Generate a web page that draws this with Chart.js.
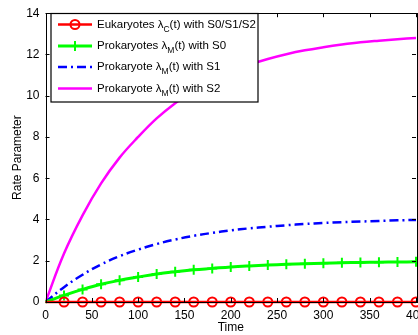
<!DOCTYPE html>
<html><head><meta charset="utf-8">
<script src="https://cdn.jsdelivr.net/npm/chart.js@4.4.0/dist/chart.umd.min.js"></script>
<style>
html,body{margin:0;padding:0;overflow:hidden;background:#fff;width:418px;height:335px}
#wrap{position:absolute;left:0;top:0;width:440px;height:335px}
</style></head><body>
<div id="wrap"><canvas id="c" width="440" height="335"></canvas></div>
<script>
const time = [0,20,40,60,80,100,120,140,160,180,200,220,240,260,280,300,320,340,360,380,400];
const eukaryotes = [0,0,0,0,0,0,0,0,0,0,0,0,0,0,0,0,0,0,0,0,0];
const prokS0 = [0,0.32,0.61,0.86,1.05,1.21,1.36,1.47,1.56,1.63,1.70,1.75,1.79,1.83,1.86,1.88,1.90,1.92,1.93,1.94,1.95];
const prokS1 = [0,0.72,1.32,1.82,2.22,2.54,2.81,3.03,3.21,3.35,3.47,3.57,3.65,3.72,3.78,3.83,3.87,3.90,3.93,3.96,3.98];
const prokS2 = [0,2.35,4.2,5.75,7.0,8.0,8.9,9.64,10.25,10.75,11.16,11.5,11.78,12.01,12.2,12.35,12.48,12.59,12.67,12.74,12.8];
const xTicks = [0,50,100,150,200,250,300,350,400];
const yTicks = [0,2,4,6,8,10,12,14];
const legendItems = [
  {pre:'Eukaryotes \u03BB', sub:'C', post:'(t) with S0/S1/S2'},
  {pre:'Prokaryotes \u03BB', sub:'M', post:'(t) with S0'},
  {pre:'Prokaryote \u03BB', sub:'M', post:'(t) with S1'},
  {pre:'Prokaryote \u03BB', sub:'M', post:'(t) with S2'}
];
const FONT = '"Liberation Sans", Arial, Helvetica, sans-serif';

function series(vals){ return time.map((t,i)=>({x:t,y:vals[i]})); }

const datasets = [
  {data:series(eukaryotes), borderColor:'#ff0000', borderWidth:2.5, pointStyle:'circle', clip:false,
   pointRadius: ctx => ctx.dataIndex===0?0:4.5, pointBorderWidth:2, pointBackgroundColor:'rgba(0,0,0,0)', pointBorderColor:'#ff0000'},
  {data:series(prokS0), borderColor:'#00ff00', borderWidth:3, pointStyle:'cross', clip:false,
   pointRadius: ctx => ctx.dataIndex===0?0:5, pointBorderWidth:2, pointBorderColor:'#00ff00', tension:0.4},
  {data:series(prokS1), borderColor:'#0000ff', borderWidth:2.5, borderDash:[9,4,2,4], pointRadius:0, tension:0.4},
  {data:series(prokS2), borderColor:'#ff00ff', borderWidth:2.5, pointRadius:0, tension:0.4}
];

const boxPlugin = {
  id:'box',
  afterDatasetsDraw(chart){
    const {ctx, chartArea:a, scales:{x,y}} = chart;
    ctx.save();
    ctx.strokeStyle='#000'; ctx.lineWidth=1;
    ctx.beginPath();
    const L=4;
    xTicks.forEach(v=>{const px=Math.round(x.getPixelForValue(v))+0.5;
      ctx.moveTo(px,a.bottom); ctx.lineTo(px,a.bottom-L);
      ctx.moveTo(px,a.top); ctx.lineTo(px,a.top+L);});
    yTicks.forEach(v=>{const py=Math.round(y.getPixelForValue(v))+0.5;
      ctx.moveTo(a.left,py); ctx.lineTo(a.left+L,py);
      ctx.moveTo(a.right,py); ctx.lineTo(a.right-L,py);});
    ctx.stroke();
    ctx.strokeRect(Math.round(a.left)+0.5, Math.round(a.top)+0.5, Math.round(a.right-a.left), Math.round(a.bottom-a.top));
    // legend
    const lx=51, ly=13.5, lw=207, lh=88.5;
    ctx.fillStyle='#fff'; ctx.fillRect(lx,ly,lw,lh);
    ctx.lineWidth=1.2; ctx.strokeStyle='#000'; ctx.strokeRect(lx,ly,lw,lh);
    const rows=[24.5,46,67,88.5];
    legendItems.forEach((it,i)=>{
      const ds=datasets[i]; const yy=rows[i];
      ctx.save();
      ctx.strokeStyle=ds.borderColor; ctx.lineWidth=ds.borderWidth;
      ctx.setLineDash(ds.borderDash||[]);
      ctx.beginPath(); ctx.moveTo(58,yy); ctx.lineTo(92,yy); ctx.stroke();
      ctx.setLineDash([]);
      if(i===0){ctx.lineWidth=2; ctx.beginPath(); ctx.arc(75,yy,4.5,0,Math.PI*2); ctx.stroke();}
      if(i===1){ctx.lineWidth=2; ctx.beginPath(); ctx.moveTo(75,yy-5); ctx.lineTo(75,yy+5); ctx.moveTo(70,yy); ctx.lineTo(80,yy); ctx.stroke();}
      ctx.restore();
      ctx.fillStyle='#000'; ctx.textBaseline='middle';
      let tx=97;
      ctx.font='11.5px '+FONT; ctx.fillText(it.pre,tx,yy); tx+=ctx.measureText(it.pre).width;
      ctx.font='8.5px '+FONT; ctx.fillText(it.sub,tx,yy+5); tx+=ctx.measureText(it.sub).width;
      ctx.font='11.5px '+FONT; ctx.fillText(it.post,tx,yy);
    });
    ctx.restore();
  }
};

new Chart(document.getElementById('c'),{
  type:'line',
  data:{datasets},
  plugins:[boxPlugin],
  options:{
    responsive:false, animation:false,
    layout:{padding:{left:0,right:24,top:10,bottom:0}},
    plugins:{legend:{display:false},tooltip:{enabled:false}},
    scales:{
      x:{type:'linear',min:0,max:400,
        afterBuildTicks: s=>{s.ticks=xTicks.map(v=>({value:v}));},
        afterFit: s=>{s.height=33;},
        grid:{display:false,drawTicks:false}, border:{display:false},
        ticks:{color:'#000',font:{family:FONT,size:12},padding:6,maxRotation:0},
        title:{display:true,text:'Time',color:'#000',font:{family:FONT,size:12},padding:{top:0,bottom:0}}},
      y:{type:'linear',min:0,max:14,
        afterBuildTicks: s=>{s.ticks=yTicks.map(v=>({value:v}));},
        afterFit: s=>{s.width=45.5;},
        grid:{display:false,drawTicks:false}, border:{display:false},
        ticks:{color:'#000',font:{family:FONT,size:12},padding:6},
        title:{display:true,text:'Rate Parameter',color:'#000',font:{family:FONT,size:12},padding:{top:10,bottom:10}}}
    }
  }
});
</script>
</body></html>
